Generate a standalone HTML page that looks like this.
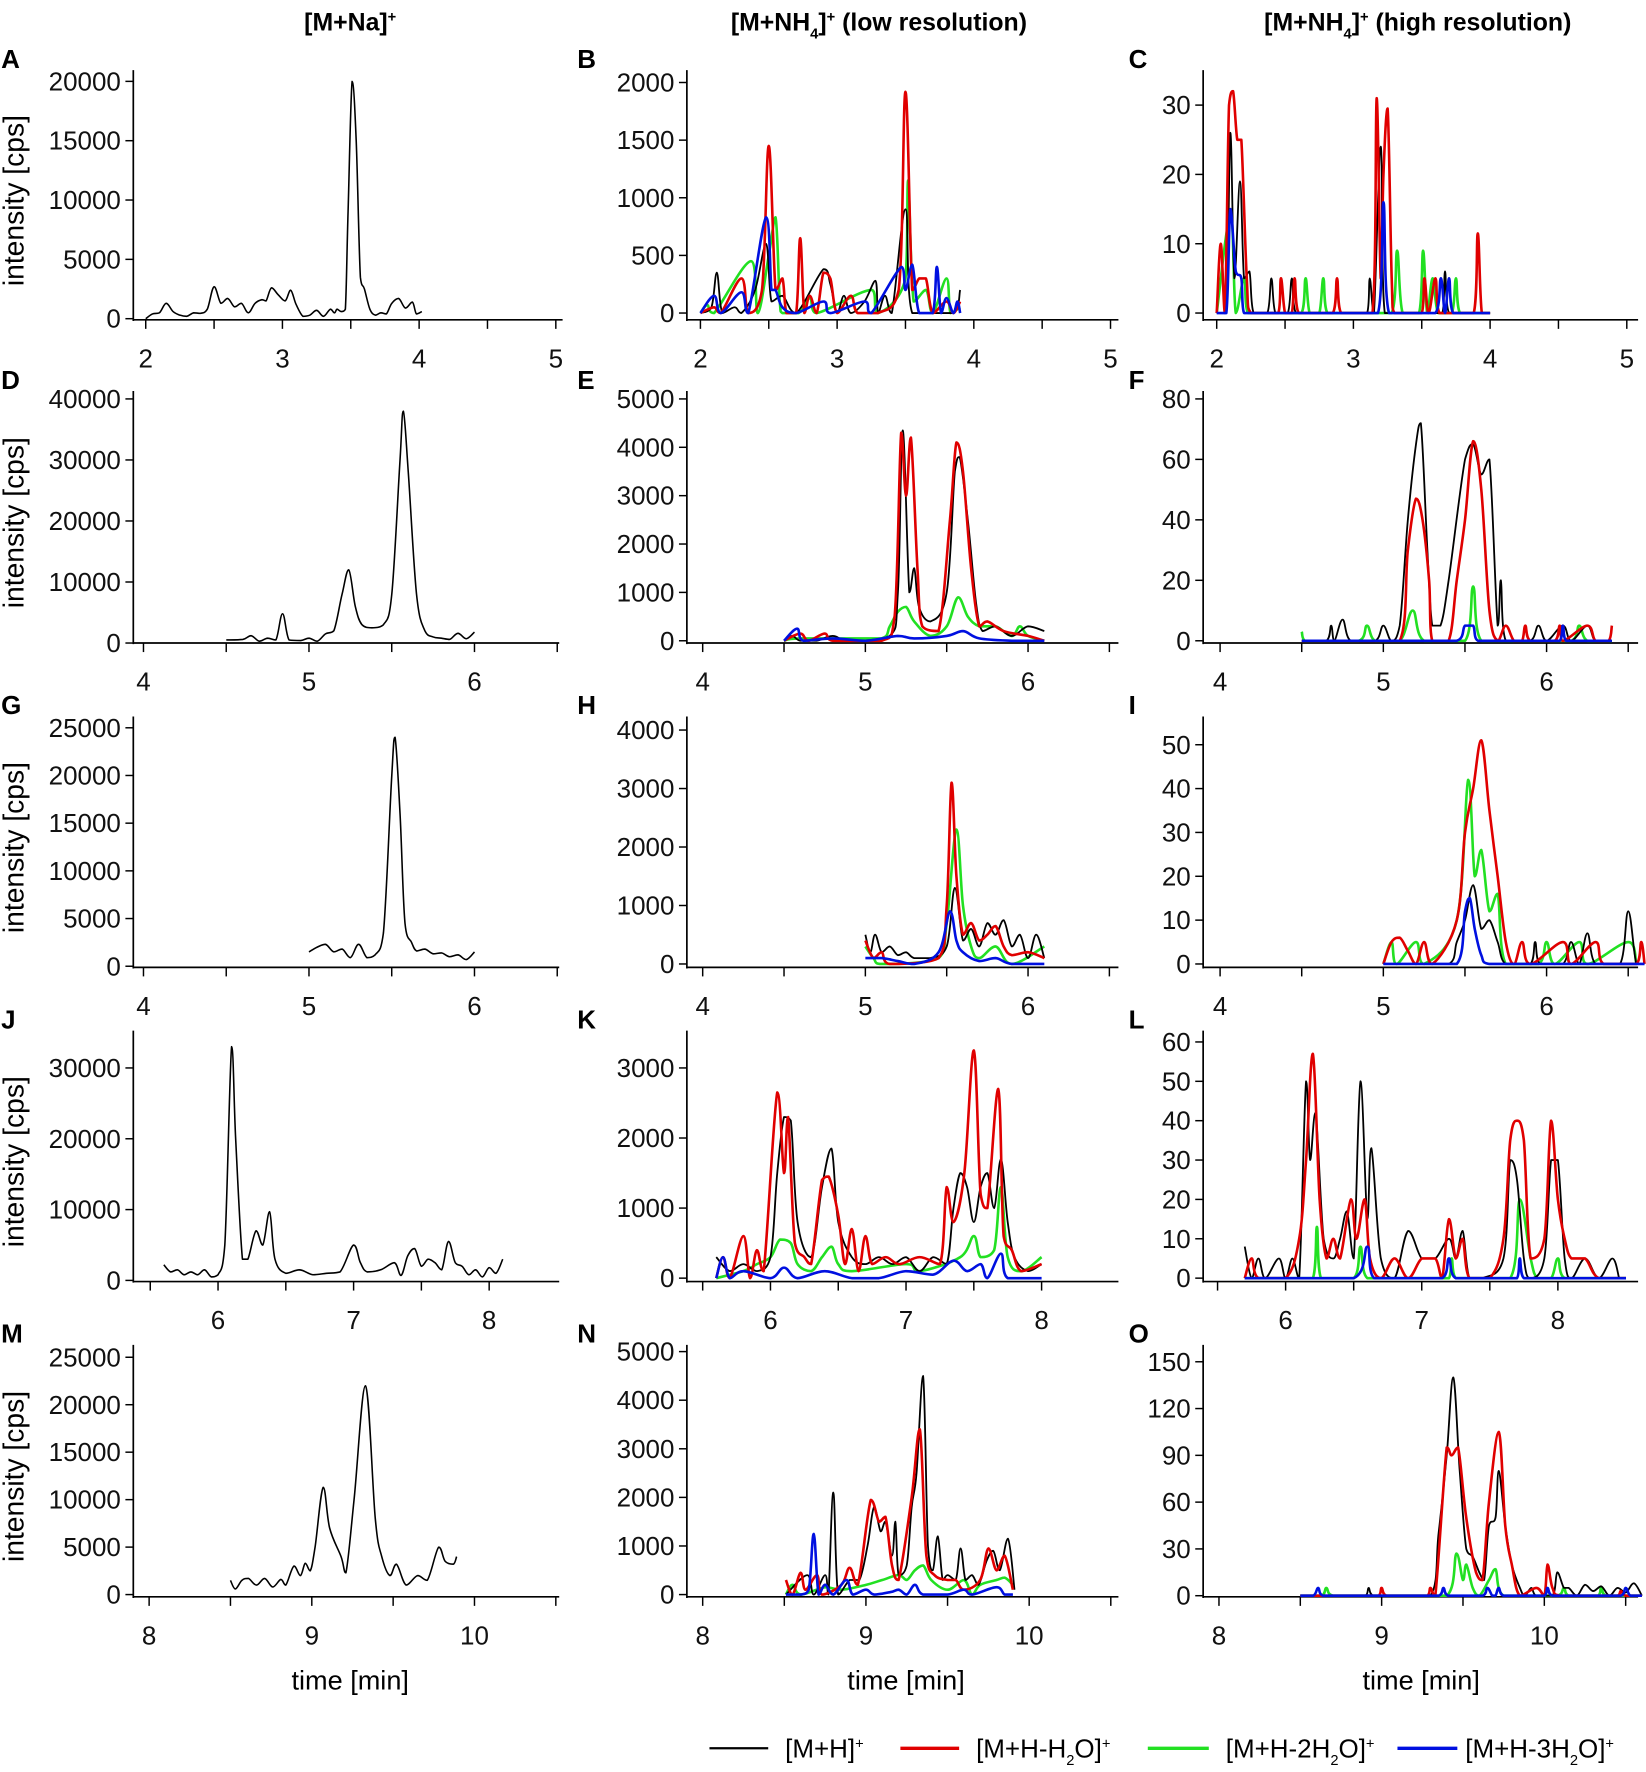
<!DOCTYPE html>
<html><head><meta charset="utf-8"><title>Chromatograms</title>
<style>
html,body{margin:0;padding:0;background:#fff;}
svg{display:block;font-family:"Liberation Sans",Arial,sans-serif;}
.tk{font-size:23px;fill:#111;}
.lt{font-size:23px;font-weight:bold;fill:#000;}
</style></head><body>
<svg id="fig" width="1646" height="1772" viewBox="0 0 1457 1568" preserveAspectRatio="none" xmlns="http://www.w3.org/2000/svg">
<rect x="0" y="0" width="1457" height="1568" fill="#fff"/>
<g font-weight="bold" font-size="22">
<text x="310" y="27" text-anchor="middle">[M+Na]<tspan dy="-8" font-size="13">+</tspan></text>
<text x="778" y="27" text-anchor="middle">[M+NH<tspan dy="7" font-size="13">4</tspan><tspan dy="-7">]</tspan><tspan dy="-8" font-size="13">+</tspan><tspan dy="8"> (low resolution)</tspan></text>
<text x="1255" y="27" text-anchor="middle">[M+NH<tspan dy="7" font-size="13">4</tspan><tspan dy="-7">]</tspan><tspan dy="-8" font-size="13">+</tspan><tspan dy="8"> (high resolution)</tspan></text>
</g>
<g id="panels"></g>
<g font-size="24">
<text x="310" y="1495" text-anchor="middle">time [min]</text>
<text x="802" y="1495" text-anchor="middle">time [min]</text>
<text x="1258" y="1495" text-anchor="middle">time [min]</text>
</g>
<g font-size="23">
<g><line x1="628" y1="1547" x2="680" y2="1547" stroke="#000" stroke-width="2"/><text x="695" y="1555">[M+H]<tspan dy="-8" font-size="13">+</tspan></text></g>
<g><line x1="797" y1="1547" x2="849" y2="1547" stroke="#e00000" stroke-width="3"/><text x="864" y="1555">[M+H-H<tspan dy="7" font-size="13">2</tspan><tspan dy="-7">O]</tspan><tspan dy="-8" font-size="13">+</tspan></text></g>
<g><line x1="1016" y1="1547" x2="1070" y2="1547" stroke="#22e022" stroke-width="3"/><text x="1085" y="1555">[M+H-2H<tspan dy="7" font-size="13">2</tspan><tspan dy="-7">O]</tspan><tspan dy="-8" font-size="13">+</tspan></text></g>
<g><line x1="1237" y1="1547" x2="1290" y2="1547" stroke="#0010e0" stroke-width="3"/><text x="1297" y="1555">[M+H-3H<tspan dy="7" font-size="13">2</tspan><tspan dy="-7">O]</tspan><tspan dy="-8" font-size="13">+</tspan></text></g>
</g>
</svg>
<script>
// ---- data: [time(min), intensity] ----
const A_na = [[2.0,0],[2.05,400],[2.1,500],[2.15,1300],[2.2,600],[2.25,300],[2.3,200],[2.35,500],[2.4,450],[2.45,800],[2.5,2700],[2.55,1300],[2.6,1700],[2.65,1000],[2.7,1300],[2.75,500],[2.8,1300],[2.85,1600],[2.88,1500],[2.92,2600],[2.97,2000],[3.02,1500],[3.06,2400],[3.1,1200],[3.15,200],[3.2,300],[3.25,700],[3.3,200],[3.35,800],[3.38,500],[3.4,800],[3.43,600],[3.46,800],[3.48,9000],[3.51,20000],[3.54,15000],[3.57,3500],[3.6,2500],[3.64,800],[3.68,300],[3.72,500],[3.76,400],[3.8,1300],[3.85,1700],[3.9,900],[3.95,1400],[3.98,400],[4.02,600]];
const B_black = [[2.0,0],[2.08,50],[2.12,350],[2.16,0],[2.25,50],[2.3,0],[2.4,200],[2.48,600],[2.52,100],[2.6,150],[2.7,0],[2.9,380],[2.95,250],[3.0,0],[3.05,150],[3.1,0],[3.2,100],[3.28,280],[3.3,0],[3.35,150],[3.4,0],[3.5,900],[3.55,0],[3.85,0],[3.9,200]];
const B_red = [[2.0,0],[2.1,50],[2.15,0],[2.3,300],[2.35,0],[2.45,200],[2.5,1450],[2.55,200],[2.6,300],[2.63,0],[2.7,0],[2.73,650],[2.76,0],[2.8,150],[2.85,0],[2.9,350],[2.95,300],[3.0,0],[3.1,150],[3.15,0],[3.3,0],[3.45,200],[3.5,1920],[3.55,200],[3.6,300],[3.65,300],[3.7,0],[3.8,100],[3.85,0],[3.9,100]];
const B_green = [[2.0,0],[2.05,70],[2.1,0],[2.37,450],[2.42,0],[2.5,500],[2.55,830],[2.58,100],[2.6,0],[2.72,0],[2.8,130],[2.85,0],[3.25,200],[3.3,0],[3.5,300],[3.52,1150],[3.56,100],[3.65,200],[3.7,0],[3.8,300],[3.83,0],[3.9,50]];
const B_blue = [[2.0,0],[2.1,150],[2.15,0],[2.3,180],[2.35,0],[2.48,830],[2.52,200],[2.55,200],[2.6,50],[2.7,0],[2.9,100],[2.95,0],[3.2,100],[3.25,0],[3.47,400],[3.5,200],[3.55,420],[3.6,0],[3.7,0],[3.73,400],[3.76,0],[3.8,130],[3.85,0],[3.88,100],[3.9,0]];
const C_black = [[2.0,0],[2.07,0],[2.1,26],[2.13,5],[2.17,19],[2.2,5],[2.24,6],[2.27,0],[2.37,0],[2.4,5],[2.43,0],[2.52,0],[2.55,5],[2.58,0],[3.1,0],[3.12,5],[3.15,0],[3.2,24],[3.23,0],[3.65,0],[3.67,6],[3.7,0],[4.0,0]];
const C_red = [[2.0,0],[2.03,10],[2.06,0],[2.09,30],[2.12,32],[2.15,25],[2.18,25],[2.22,5],[2.25,0],[2.45,0],[2.47,5],[2.5,0],[2.55,0],[2.57,5],[2.6,0],[2.85,0],[2.88,5],[2.91,0],[3.14,0],[3.17,31],[3.2,5],[3.22,20],[3.25,29.5],[3.28,5],[3.3,0],[3.5,0],[3.52,5],[3.55,0],[3.6,5],[3.63,0],[3.88,0],[3.91,11.5],[3.94,0],[4.0,0]];
const C_green = [[2.0,0],[2.1,14],[2.14,0],[2.2,5],[2.23,0],[2.62,0],[2.65,5],[2.68,0],[2.75,0],[2.78,5],[2.81,0],[3.28,0],[3.32,9],[3.36,0],[3.48,0],[3.51,9],[3.54,0],[3.58,5],[3.62,0],[3.72,0],[3.75,5],[3.78,0],[4.0,0]];
const C_blue = [[2.0,0],[2.07,0],[2.1,15],[2.14,6],[2.18,5],[2.2,0],[3.18,0],[3.22,16],[3.26,0],[3.6,0],[3.64,5],[3.67,0],[3.7,5],[3.73,0],[4.0,0]];
const D_na = [[4.5,500],[4.6,600],[4.65,1200],[4.7,300],[4.75,800],[4.8,500],[4.84,4800],[4.88,500],[4.95,400],[5.0,800],[5.05,300],[5.1,1500],[5.15,2000],[5.2,8000],[5.24,12000],[5.28,6000],[5.32,3000],[5.38,2500],[5.45,3000],[5.5,8000],[5.55,30000],[5.57,38000],[5.6,28000],[5.65,8000],[5.7,2000],[5.75,1000],[5.8,800],[5.85,600],[5.9,1600],[5.95,700],[6.0,1800]];
const E_black = [[4.5,0],[4.55,100],[4.6,0],[4.7,0],[4.8,100],[4.9,0],[5.15,100],[5.2,1000],[5.23,4350],[5.27,1000],[5.3,1500],[5.33,700],[5.4,400],[5.5,1000],[5.55,3500],[5.58,3800],[5.63,2500],[5.68,800],[5.72,200],[5.8,300],[5.9,100],[6.0,300],[6.1,200]];
const E_red = [[4.5,0],[4.6,150],[4.65,0],[4.75,150],[4.8,0],[5.1,0],[5.18,500],[5.22,4300],[5.25,3000],[5.28,4200],[5.32,1500],[5.35,300],[5.45,200],[5.52,2500],[5.56,4100],[5.6,3500],[5.65,1500],[5.7,300],[5.75,400],[5.85,200],[6.0,100],[6.1,0]];
const E_green = [[4.5,0],[4.6,50],[5.1,50],[5.15,300],[5.2,600],[5.25,700],[5.3,400],[5.4,100],[5.5,300],[5.57,900],[5.63,500],[5.7,300],[5.8,300],[5.9,100],[5.95,300],[6.0,100],[6.1,0]];
const E_blue = [[4.5,0],[4.58,250],[4.62,0],[4.8,50],[5.0,0],[5.2,100],[5.3,50],[5.5,100],[5.6,200],[5.7,50],[5.9,0],[6.1,0]];
const F_black = [[4.5,0],[4.65,0],[4.68,5],[4.7,0],[4.75,7],[4.8,0],[4.95,0],[5.0,5],[5.05,0],[5.1,5],[5.15,40],[5.2,65],[5.23,72],[5.27,30],[5.3,5],[5.35,5],[5.4,20],[5.5,60],[5.55,65],[5.6,55],[5.65,60],[5.7,5],[5.72,20],[5.75,0],[5.9,0],[5.95,5],[6.0,0],[6.1,5],[6.15,0],[6.25,5],[6.3,0],[6.4,0]];
const F_red = [[4.5,0],[5.1,0],[5.15,30],[5.2,47],[5.24,40],[5.28,20],[5.3,0],[5.4,0],[5.45,20],[5.5,40],[5.55,66],[5.6,50],[5.65,10],[5.7,0],[5.75,5],[5.8,0],[5.85,0],[5.87,5],[5.9,0],[6.05,0],[6.08,5],[6.1,0],[6.25,5],[6.3,0],[6.38,0],[6.4,5]];
const F_green = [[4.5,3],[4.52,0],[4.85,0],[4.9,5],[4.95,0],[5.1,0],[5.18,10],[5.25,0],[5.5,0],[5.55,18],[5.6,0],[6.15,0],[6.2,5],[6.25,0],[6.4,0]];
const F_blue = [[4.5,0],[5.45,0],[5.5,5],[5.55,5],[5.58,0],[6.08,0],[6.1,5],[6.12,0],[6.4,0]];
const G_na = [[5.0,1500],[5.05,2000],[5.1,2300],[5.15,1500],[5.2,1800],[5.25,900],[5.3,2300],[5.35,900],[5.4,1200],[5.45,3500],[5.5,20000],[5.52,24000],[5.55,16000],[5.58,4500],[5.62,2500],[5.65,1600],[5.7,1800],[5.75,1300],[5.8,1400],[5.85,1000],[5.9,1200],[5.95,700],[6.0,1500]];
const H_black = [[5.0,500],[5.03,200],[5.06,500],[5.1,200],[5.15,300],[5.2,150],[5.25,200],[5.3,100],[5.4,100],[5.5,300],[5.55,1300],[5.6,400],[5.65,600],[5.7,300],[5.75,700],[5.8,500],[5.85,750],[5.9,300],[5.95,500],[6.0,100],[6.05,500],[6.1,100]];
const H_red = [[5.0,400],[5.05,100],[5.1,200],[5.15,0],[5.45,100],[5.5,1000],[5.53,3100],[5.56,1500],[5.6,500],[5.65,700],[5.7,400],[5.75,500],[5.8,650],[5.85,300],[5.9,150],[6.0,200],[6.1,100]];
const H_green = [[5.0,300],[5.05,100],[5.1,0],[5.45,100],[5.5,700],[5.56,2300],[5.6,1000],[5.65,300],[5.7,100],[5.8,300],[5.9,0],[6.1,300]];
const H_blue = [[5.0,100],[5.1,100],[5.2,50],[5.3,0],[5.45,200],[5.52,900],[5.56,400],[5.6,200],[5.7,50],[5.8,100],[5.9,0],[6.1,0]];
const I_black = [[5.0,0],[5.4,0],[5.45,5],[5.5,10],[5.55,18],[5.6,8],[5.65,10],[5.7,5],[5.75,0],[5.9,0],[5.93,5],[5.96,0],[6.1,0],[6.15,5],[6.2,0],[6.25,7],[6.3,0],[6.45,0],[6.5,12],[6.55,0],[6.6,0]];
const I_red = [[5.0,0],[5.05,5],[5.1,6],[5.15,3],[5.2,0],[5.25,5],[5.3,0],[5.45,10],[5.5,30],[5.55,40],[5.6,51],[5.65,35],[5.7,20],[5.75,5],[5.8,0],[5.85,5],[5.9,0],[6.1,5],[6.15,0],[6.3,5],[6.35,0],[6.55,0],[6.58,5],[6.6,0]];
const I_green = [[5.0,0],[5.05,5],[5.08,0],[5.2,5],[5.25,0],[5.45,10],[5.52,42],[5.56,20],[5.6,26],[5.65,12],[5.7,16],[5.75,0],[5.95,0],[6.0,5],[6.05,0],[6.2,5],[6.25,0],[6.5,5],[6.55,0]];
const I_blue = [[5.0,0],[5.45,0],[5.5,12],[5.53,15],[5.56,8],[5.6,2],[5.65,0],[6.6,0]];
const J_na = [[5.6,2200],[5.65,1200],[5.7,1500],[5.75,800],[5.8,1200],[5.85,800],[5.9,1500],[5.95,500],[6.0,800],[6.05,5000],[6.1,33000],[6.13,20000],[6.18,3000],[6.22,3000],[6.28,7000],[6.33,5000],[6.38,9700],[6.42,3000],[6.5,1000],[6.6,1500],[6.7,800],[6.8,1000],[6.9,1200],[7.0,5000],[7.05,2500],[7.1,1200],[7.2,1500],[7.3,2500],[7.35,700],[7.4,3500],[7.45,4500],[7.5,2000],[7.55,3000],[7.6,2500],[7.65,1500],[7.7,5500],[7.75,2500],[7.8,2000],[7.85,800],[7.9,1500],[7.95,500],[8.0,1800],[8.05,1000],[8.1,3000]];
const K_black = [[5.6,300],[5.7,100],[5.8,200],[5.9,100],[6.0,300],[6.05,1500],[6.1,2300],[6.15,2250],[6.2,800],[6.3,300],[6.38,1300],[6.45,1850],[6.5,800],[6.6,300],[6.7,200],[6.8,300],[6.9,200],[7.0,300],[7.1,100],[7.2,300],[7.3,200],[7.35,1000],[7.4,1500],[7.45,1300],[7.5,800],[7.55,1300],[7.6,1500],[7.65,1000],[7.7,1700],[7.75,800],[7.8,300],[7.9,100],[8.0,200]];
const K_red = [[5.6,0],[5.65,300],[5.7,0],[5.8,600],[5.85,0],[5.9,400],[5.95,100],[6.05,2650],[6.1,1500],[6.13,2300],[6.18,500],[6.25,300],[6.3,200],[6.38,1400],[6.43,1450],[6.5,900],[6.55,200],[6.6,700],[6.65,100],[6.7,600],[6.75,200],[6.85,300],[6.95,200],[7.1,300],[7.25,200],[7.3,1300],[7.35,800],[7.43,1500],[7.5,3250],[7.55,1200],[7.6,1000],[7.68,2700],[7.72,600],[7.78,400],[7.85,100],[8.0,200]];
const K_green = [[5.6,0],[5.8,100],[5.9,200],[6.0,300],[6.07,550],[6.15,500],[6.2,200],[6.3,100],[6.38,300],[6.45,450],[6.5,200],[6.6,100],[7.0,200],[7.1,100],[7.4,300],[7.5,600],[7.55,300],[7.65,400],[7.7,1300],[7.75,300],[7.85,100],[8.0,300]];
const K_blue = [[5.6,0],[5.65,300],[5.7,0],[5.8,100],[6.0,0],[6.1,150],[6.2,0],[6.4,100],[6.6,0],[6.8,0],[7.0,100],[7.2,50],[7.35,250],[7.45,100],[7.55,200],[7.6,0],[7.7,350],[7.75,0],[8.0,0]];
const L_black = [[5.7,8],[5.75,0],[5.8,5],[5.85,0],[5.95,5],[6.0,0],[6.05,5],[6.1,0],[6.15,50],[6.18,30],[6.22,42],[6.28,10],[6.35,5],[6.4,10],[6.45,17],[6.5,5],[6.55,50],[6.6,15],[6.63,33],[6.7,5],[6.8,0],[6.9,12],[7.0,5],[7.1,5],[7.2,10],[7.25,5],[7.3,12],[7.35,0],[7.45,0],[7.6,5],[7.65,30],[7.7,25],[7.75,5],[7.8,0],[7.9,5],[7.95,30],[8.0,30],[8.05,5],[8.1,0],[8.2,5],[8.3,0],[8.4,5],[8.45,0]];
const L_red = [[5.7,0],[5.75,5],[5.8,0],[6.0,0],[6.1,10],[6.15,30],[6.2,57],[6.25,20],[6.3,5],[6.35,10],[6.4,5],[6.48,20],[6.52,10],[6.58,20],[6.62,5],[6.7,0],[6.8,5],[6.9,0],[7.0,5],[7.1,5],[7.15,0],[7.2,15],[7.25,5],[7.3,10],[7.35,0],[7.5,0],[7.6,10],[7.65,35],[7.7,40],[7.75,35],[7.8,5],[7.9,10],[7.95,40],[8.0,20],[8.05,10],[8.1,5],[8.2,5],[8.3,0],[8.5,0]];
const L_green = [[5.7,0],[6.2,0],[6.23,13],[6.26,0],[6.5,0],[6.55,8],[6.6,0],[7.2,0],[7.22,5],[7.25,0],[7.65,0],[7.72,20],[7.8,5],[7.85,0],[7.95,0],[8.0,5],[8.05,0],[8.5,0]];
const L_blue = [[5.7,0],[6.5,0],[6.6,8],[6.65,0],[7.15,0],[7.2,5],[7.25,0],[7.7,0],[7.72,5],[7.75,0],[8.5,0]];
const M_na = [[8.5,1500],[8.53,600],[8.57,1500],[8.61,1700],[8.66,1000],[8.71,1700],[8.76,800],[8.81,1600],[8.84,1000],[8.89,3000],[8.93,2000],[8.96,3300],[8.99,2500],[9.02,5000],[9.07,11300],[9.11,7000],[9.18,4000],[9.21,2300],[9.26,10000],[9.33,22000],[9.39,8000],[9.43,4000],[9.48,2000],[9.52,3200],[9.58,1000],[9.65,2000],[9.71,1500],[9.78,5000],[9.82,3500],[9.87,3200],[9.89,4000]];
const N_black = [[8.51,0],[8.64,400],[8.68,0],[8.75,400],[8.77,0],[8.8,2100],[8.83,0],[8.9,300],[8.96,300],[9.01,1000],[9.05,1800],[9.09,1300],[9.12,1500],[9.16,800],[9.18,1500],[9.2,400],[9.25,600],[9.28,1800],[9.31,2500],[9.35,4500],[9.38,1000],[9.41,500],[9.44,1200],[9.47,300],[9.5,400],[9.55,300],[9.58,950],[9.61,300],[9.65,400],[9.69,200],[9.74,700],[9.78,900],[9.82,500],[9.87,1150],[9.91,100]];
const N_red = [[8.51,300],[8.55,0],[8.6,450],[8.63,100],[8.7,400],[8.73,0],[8.85,200],[8.9,550],[8.95,200],[9.03,1950],[9.08,1500],[9.12,1600],[9.16,600],[9.2,300],[9.28,2000],[9.33,3400],[9.37,800],[9.42,400],[9.5,300],[9.55,300],[9.6,100],[9.7,300],[9.75,950],[9.8,500],[9.85,800],[9.9,100]];
const N_green = [[8.51,0],[8.55,200],[8.6,0],[8.75,150],[8.85,100],[9.0,200],[9.1,300],[9.2,400],[9.25,300],[9.3,500],[9.35,600],[9.4,300],[9.5,100],[9.6,300],[9.65,0],[9.7,200],[9.8,300],[9.85,350],[9.9,200]];
const N_blue = [[8.51,0],[8.6,0],[8.65,100],[8.68,1250],[8.71,0],[8.75,200],[8.8,0],[8.88,300],[8.92,0],[9.0,100],[9.05,0],[9.15,50],[9.2,100],[9.25,0],[9.3,200],[9.35,0],[9.5,0],[9.6,100],[9.65,0],[9.8,150],[9.85,0],[9.9,0]];
const O_black = [[8.5,0],[8.9,0],[8.92,5],[8.95,0],[9.3,0],[9.35,40],[9.4,90],[9.44,140],[9.48,80],[9.52,30],[9.56,25],[9.6,15],[9.63,10],[9.66,45],[9.7,50],[9.72,80],[9.76,45],[9.8,20],[9.85,5],[9.88,0],[9.92,5],[9.95,0],[10.05,0],[10.08,15],[10.12,5],[10.15,5],[10.2,0],[10.25,7],[10.3,3],[10.35,6],[10.4,0],[10.45,5],[10.5,2],[10.55,8],[10.6,0]];
const O_red = [[8.5,0],[8.98,0],[9.0,5],[9.03,0],[9.28,0],[9.3,5],[9.33,0],[9.4,95],[9.43,90],[9.47,95],[9.52,50],[9.58,15],[9.62,10],[9.66,60],[9.72,105],[9.76,45],[9.8,20],[9.85,0],[9.95,5],[10.0,0],[10.02,20],[10.05,5],[10.1,0],[10.45,0],[10.47,3],[10.5,0],[10.6,0]];
const O_green = [[8.5,0],[8.63,0],[8.66,5],[8.7,0],[9.4,0],[9.46,27],[9.5,10],[9.52,20],[9.56,5],[9.6,0],[9.66,10],[9.7,17],[9.75,0],[10.08,0],[10.12,5],[10.15,0],[10.33,0],[10.35,5],[10.38,0],[10.6,0]];
const O_blue = [[8.5,0],[8.58,0],[8.61,5],[8.64,0],[9.35,0],[9.38,5],[9.41,0],[9.62,0],[9.65,5],[9.68,0],[9.7,0],[9.72,5],[9.75,0],[10.0,0],[10.02,5],[10.05,0],[10.47,0],[10.5,5],[10.53,0],[10.6,0]];

const xTicks1 = [2,2.5,3,3.5,4,4.5,5];
const xTicks2 = [4,4.5,5,5.5,6,6.5];
const xTicks4 = [5.5,6,6.5,7,7.5,8];
const xTicks5 = [8,8.5,9,9.5,10,10.5];
const xLabels1 = [2,3,4,5];
const xLabels2 = [4,5,6];
const xLabels4 = [6,7,8];
const xLabels5 = [8,9,10];

const ySteps = {A:[0,5000,10000,15000,20000],B:[0,500,1000,1500,2000],C:[0,10,20,30],
 D:[0,10000,20000,30000,40000],E:[0,1000,2000,3000,4000,5000],F:[0,20,40,60,80],
 G:[0,5000,10000,15000,20000,25000],H:[0,1000,2000,3000,4000],I:[0,10,20,30,40,50],
 J:[0,10000,20000,30000],K:[0,1000,2000,3000],L:[0,10,20,30,40,50,60],
 M:[0,5000,10000,15000,20000,25000],N:[0,1000,2000,3000,4000,5000],O:[0,30,60,90,120,150]};

const COLORS = {black:"#000",red:"#e00000",green:"#22e022",blue:"#0010e0"};
const rows = [
 {axisY:283, top:62, ticks:xTicks1, labels:xLabels1, cols:[[118,498,2,129,121],[608,990,2,620,121],[1065,1450,2,1077,121]]},
 {axisY:569, top:346, ticks:xTicks2, labels:xLabels2, cols:[[118,495,4,127,146.5],[608,990,4,622,144],[1065,1450,4,1080,144.5]]},
 {axisY:856, top:634, ticks:xTicks2, labels:xLabels2, cols:[[118,495,4,127,146.5],[608,990,4,622,144],[1065,1450,4,1080,144.5]]},
 {axisY:1134, top:912, ticks:xTicks4, labels:xLabels4, cols:[[118,495,6,193,120],[608,990,6,682,120],[1065,1450,6,1138,120.5]]},
 {axisY:1413, top:1190, ticks:xTicks5, labels:xLabels5, cols:[[118,495,8,132,144],[608,990,8,622,144.5],[1065,1450,8,1079,144]]}
];
const panels = [
 {id:"A",r:0,c:0,z:282,tv:20000,ty:72,s:{black:A_na}},
 {id:"B",r:0,c:1,z:277,tv:2000,ty:73,s:{black:B_black,red:B_red,green:B_green,blue:B_blue}},
 {id:"C",r:0,c:2,z:277,tv:30,ty:93,s:{black:C_black,red:C_red,green:C_green,blue:C_blue}},
 {id:"D",r:1,c:0,z:569,tv:40000,ty:353,s:{black:D_na}},
 {id:"E",r:1,c:1,z:567,tv:5000,ty:353,s:{black:E_black,red:E_red,green:E_green,blue:E_blue}},
 {id:"F",r:1,c:2,z:567,tv:80,ty:353,s:{black:F_black,red:F_red,green:F_green,blue:F_blue}},
 {id:"G",r:2,c:0,z:855,tv:25000,ty:644,s:{black:G_na}},
 {id:"H",r:2,c:1,z:853,tv:4000,ty:646,s:{black:H_black,red:H_red,green:H_green,blue:H_blue}},
 {id:"I",r:2,c:2,z:853,tv:50,ty:659,s:{black:I_black,red:I_red,green:I_green,blue:I_blue}},
 {id:"J",r:3,c:0,z:1133,tv:30000,ty:945,s:{black:J_na}},
 {id:"K",r:3,c:1,z:1131,tv:3000,ty:945,s:{black:K_black,red:K_red,green:K_green,blue:K_blue}},
 {id:"L",r:3,c:2,z:1131,tv:60,ty:922,s:{black:L_black,red:L_red,green:L_green,blue:L_blue}},
 {id:"M",r:4,c:0,z:1411,tv:25000,ty:1201,s:{black:M_na}},
 {id:"N",r:4,c:1,z:1411,tv:5000,ty:1196,s:{black:N_black,red:N_red,green:N_green,blue:N_blue}},
 {id:"O",r:4,c:2,z:1412,tv:150,ty:1205,s:{black:O_black,red:O_red,green:O_green,blue:O_blue}}
];

const NS = "http://www.w3.org/2000/svg";
function mk(tag, attrs, parent){ const e=document.createElementNS(NS,tag); for(const k in attrs) e.setAttribute(k,attrs[k]); parent.appendChild(e); return e; }
function clamp(v,a,b){ const lo=Math.min(a,b), hi=Math.max(a,b); return Math.max(lo, Math.min(hi, v)); }
function smoothPath(pts){
  let d = "M"+pts[0][0].toFixed(1)+","+pts[0][1].toFixed(1);
  for(let i=0;i<pts.length-1;i++){
    const p0=pts[Math.max(0,i-1)], p1=pts[i], p2=pts[i+1], p3=pts[Math.min(pts.length-1,i+2)];
    const t=0.18;
    const c1x=clamp(p1[0]+(p2[0]-p0[0])*t, p1[0], p2[0]), c1y=clamp(p1[1]+(p2[1]-p0[1])*t, p1[1], p2[1]);
    const c2x=clamp(p2[0]-(p3[0]-p1[0])*t, p1[0], p2[0]), c2y=clamp(p2[1]-(p3[1]-p1[1])*t, p1[1], p2[1]);
    d += " C"+c1x.toFixed(1)+","+c1y.toFixed(1)+" "+c2x.toFixed(1)+","+c2y.toFixed(1)+" "+p2[0].toFixed(1)+","+p2[1].toFixed(1);
  }
  return d;
}
const root = document.getElementById("panels");

panels.forEach(p=>{
  const row = rows[p.r], col = row.cols[p.c];
  const [yx, endX, t0, px0, ppm] = col;
  const xs = t => px0 + (t - t0)*ppm;
  const ys = v => p.z - v*(p.z - p.ty)/p.tv;
  const g = mk("g",{},root);
  
  
  const lt = mk("text",{class:"lt"}, g);
  lt.setAttribute('x', p.c===0 ? 1 : (p.c===1 ? 511 : 999));
  lt.setAttribute('y', row.top - 2);
  lt.textContent = p.id;
  
  
  const ya = mk("line",{x1:yx,y1:row.top,x2:yx,y2:row.axisY+1,stroke:"#000","stroke-width":1.5},g);
  
  
  const xa = mk("line",{x1:yx,y1:row.axisY,x2:endX,y2:row.axisY,stroke:"#000","stroke-width":1.5},g);
  
  
  row.ticks.forEach(t=>{
    const tl = mk("line",{x1:xs(t),y1:row.axisY,x2:xs(t),y2:row.axisY+8,stroke:"#000","stroke-width":1.3},g);
    
    
  });
  row.labels.forEach(t=>{
    const tx = mk("text",{x:xs(t),y:row.axisY+42,"text-anchor":"middle",class:"tk"},g);
    tx.textContent = t;
    
    
  });
  ySteps[p.id].forEach(v=>{
    const tl = mk("line",{x1:yx-7,y1:ys(v),x2:yx,y2:ys(v),stroke:"#000","stroke-width":1.3},g);
    
    
    const tx = mk("text",{x:yx-11,y:ys(v)+8,"text-anchor":"end",class:"tk"},g);
    tx.textContent = v;
    
    
  });
  if(p.c===0){
    const cy = (row.top + row.axisY)/2 + 5;
    const yt = mk("text",{x:0,y:0,transform:`translate(21,${cy}) rotate(-90)`,"text-anchor":"middle","font-size":"25"},g);
    yt.textContent = "intensity [cps]";
    
    
  }
  ["green","black","red","blue"].forEach(k=>{
    const data = p.s[k]; if(!data) return;
    const pts = data.map(pt=>[xs(pt[0]), ys(pt[1])]);
    const w = (p.c===0) ? 1.4 : (k==="black" ? 1.6 : 2.3);
    const path = mk("path",{d:smoothPath(pts),fill:"none",stroke:COLORS[k],"stroke-width":w,"stroke-linejoin":"round"},g);
    
    
  });
});
</script>
</body></html>
